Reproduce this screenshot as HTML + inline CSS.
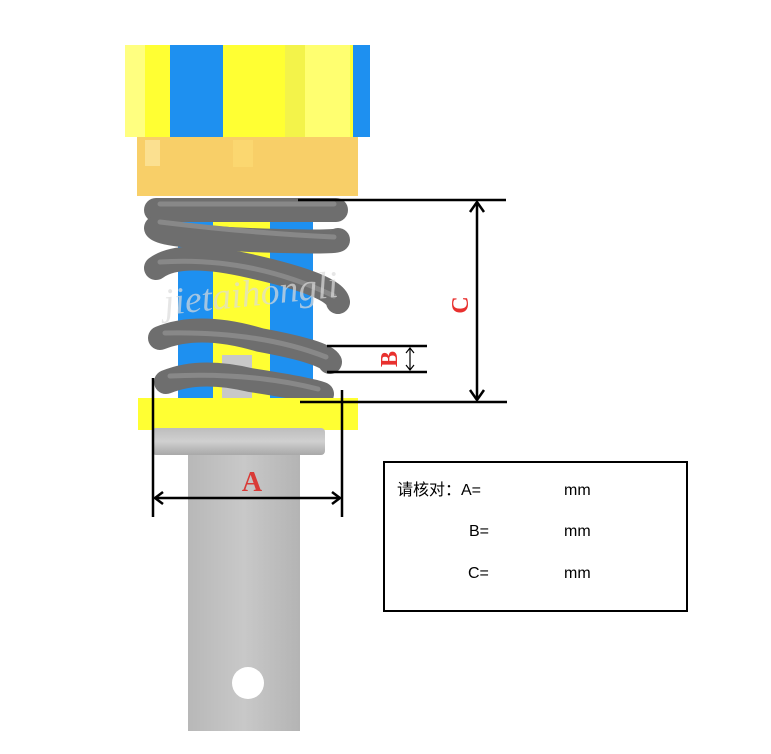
<!DOCTYPE html>
<html><head><meta charset="utf-8"><style>
html,body{margin:0;padding:0;background:#fff;}
svg{display:block}
</style></head><body>
<svg width="771" height="754" viewBox="0 0 771 754" xmlns="http://www.w3.org/2000/svg">
<defs>
<linearGradient id="sh" x1="0" x2="1"><stop offset="0" stop-color="#b8b8b8"/><stop offset="0.5" stop-color="#c8c8c8"/><stop offset="1" stop-color="#b4b4b4"/></linearGradient>
<linearGradient id="col" x1="0" y1="0" x2="0" y2="1"><stop offset="0" stop-color="#bdbdbd"/><stop offset="0.5" stop-color="#d0d0d0"/><stop offset="1" stop-color="#a8a8a8"/></linearGradient>
</defs>
<rect width="771" height="754" fill="#fff"/>
<rect x="125" y="45" width="245" height="92" fill="#ffff33"/>
<rect x="125" y="45" width="20" height="92" fill="#ffff80"/>
<rect x="170" y="45" width="53" height="92" fill="#1e90f0"/>
<rect x="285" y="45" width="20" height="92" fill="#f3f34a"/>
<rect x="305" y="45" width="45" height="92" fill="#ffff70"/>
<rect x="353" y="45" width="17" height="92" fill="#1e90f0"/>
<rect x="137" y="137" width="221" height="59" fill="#f8cf68"/>
<rect x="145" y="140" width="15" height="26" fill="#fbe090"/>
<rect x="233" y="140" width="20" height="27" fill="#fbd770"/>
<rect x="178" y="205" width="35" height="195" fill="#1e90f0"/>
<rect x="213" y="205" width="57" height="195" fill="#ffff33"/>
<rect x="270" y="205" width="43" height="195" fill="#1e90f0"/>
<rect x="222" y="355" width="30" height="45" fill="#c8c8c8"/>
<g fill="none" stroke="#6e6e6e" stroke-width="24" stroke-linecap="round">
<path d="M156 210 L336 210"/>
<path d="M156 228 Q160 236 250 240 Q335 243 338 240"/>
<path d="M156 268 Q180 250 250 266 Q335 285 338 302"/>
<path d="M160 338 Q200 322 260 340 Q325 352 330 362"/>
<path d="M166 382 Q200 368 250 380 Q315 390 322 394"/>
</g>
<g fill="none" stroke="#888" stroke-width="5" stroke-linecap="round">
<path d="M160 204 L334 204"/>
<path d="M160 222 Q250 233 334 237"/>
<path d="M160 262 Q250 256 334 296"/>
<path d="M165 333 Q260 331 326 357"/>
<path d="M170 376 Q250 372 318 389"/>
</g>
<text x="165" y="315" transform="rotate(-6 165 315)" font-family="Liberation Serif, serif" font-style="italic" font-size="38" fill="#dcdcdc" fill-opacity="0.7">jietaihongli</text>
<rect x="138" y="398" width="220" height="32" fill="#ffff33"/>
<rect x="152" y="428" width="173" height="27" rx="4" fill="url(#col)"/>
<rect x="188" y="455" width="112" height="276" fill="url(#sh)"/>
<circle cx="248" cy="683" r="16" fill="#fff"/>
<g stroke="#000" stroke-width="2.5" fill="none">
<line x1="298" y1="200" x2="506" y2="200"/>
<line x1="300" y1="402" x2="507" y2="402"/>
<line x1="477" y1="202" x2="477" y2="400"/>
<polyline points="470,212 477,202 484,212"/>
<polyline points="470,390 477,400 484,390"/>
<line x1="327" y1="346" x2="427" y2="346"/>
<line x1="327" y1="372" x2="427" y2="372"/>
<line x1="153" y1="378" x2="153" y2="517"/>
<line x1="342" y1="390" x2="342" y2="517"/>
<line x1="155" y1="498" x2="340" y2="498"/>
<polyline points="163,492 155,498 163,504"/>
<polyline points="332,492 340,498 332,504"/>
</g>
<g stroke="#000" stroke-width="1.2" fill="none">
<line x1="410" y1="348" x2="410" y2="370"/>
<polyline points="406,353 410,348 414,353"/>
<polyline points="406,365 410,370 414,365"/>
</g>
<text x="0" y="0" transform="translate(468 305) rotate(-90)" text-anchor="middle" font-family="Liberation Serif, serif" font-weight="bold" font-size="24" fill="#e8302e">C</text>
<text x="0" y="0" transform="translate(397 359) rotate(-90)" text-anchor="middle" font-family="Liberation Serif, serif" font-weight="bold" font-size="24" fill="#e8302e">B</text>
<text x="252" y="491" text-anchor="middle" font-family="Liberation Serif, serif" font-weight="bold" font-size="28" fill="#d93a36">A</text>
<rect x="384" y="462" width="303" height="149" fill="#fff" stroke="#000" stroke-width="2"/>
<g font-family="Liberation Sans, 'Noto Sans CJK SC', sans-serif" font-size="16" fill="#000">
<text x="397" y="495">请核对：A=</text>
<text x="564" y="495">mm</text>
<text x="469" y="536">B=</text>
<text x="564" y="536">mm</text>
<text x="468" y="578">C=</text>
<text x="564" y="578">mm</text>
</g>
</svg>
</body></html>
